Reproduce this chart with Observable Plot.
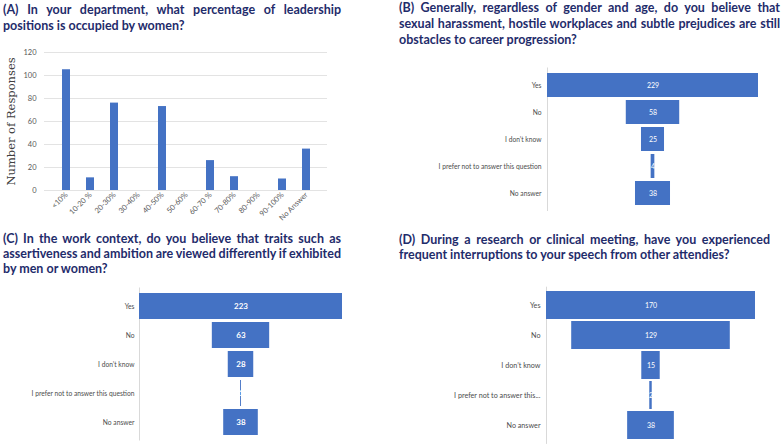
<!DOCTYPE html>
<html><head><meta charset="utf-8">
<script src="https://cdn.jsdelivr.net/npm/d3@7"></script>
<script src="https://cdn.jsdelivr.net/npm/@observablehq/plot@0.6"></script>
<style>
body{margin:0;background:#fff;width:784px;height:445px;overflow:hidden;position:relative;font-family:Lato,sans-serif}
.t{position:absolute;font-weight:bold;color:#1f2c6b;font-size:12.5px}
.t span{display:block;white-space:nowrap}
.p{position:absolute}
</style></head><body>
<div class="t" id="tA" style="left:3px;top:2px;width:338px;line-height:16px"></div>
<div class="t" id="tB" style="left:399px;top:0px;width:381px;line-height:16px"></div>
<div class="t" id="tC" style="left:3px;top:231px;width:338px;line-height:15px"></div>
<div class="t" id="tD" style="left:399px;top:232px;width:371px;line-height:15px"></div>
<div class="p" id="pA" style="left:0;top:40px"></div>
<div class="p" id="pB" style="left:392px;top:60px"></div>
<div class="p" id="pC" style="left:0;top:275px"></div>
<div class="p" id="pD" style="left:392px;top:275px"></div>
<script>
// Titles
const titleA = ["(A) In your department, what percentage of leadership", "positions is occupied by women?"];
const titleB = ["(B) Generally, regardless of gender and age, do you believe that", "sexual harassment, hostile workplaces and subtle prejudices are still", "obstacles to career progression?"];
const titleC = ["(C) In the work context, do you believe that traits such as", "assertiveness and ambition are viewed differently if exhibited", "by men or women?"];
const titleD = ["(D) During a research or clinical meeting, have you  experienced", "frequent interruptions to your speech from other attendies?"];

// Panel A data
const catA = ["<10%","10-20 %","20-30%","30-40%","40-50%","50-60%","60-70 %","70-80%","80-90%","90-100%","No Answer"];
const valA = [105, 11, 76, 0, 73, 0, 26, 12, 0, 10, 36];
const ticksA = [0, 20, 40, 60, 80, 100, 120];

// Funnel panels
const catB = ["Yes","No","I don’t know","I prefer not to answer this question","No answer"];
const valB = [229, 58, 25, 4, 38];
const catC = ["Yes","No","I don’t know","I prefer not to answer this question","No answer"];
const valC = [223, 63, 28, 1, 38];
const catD = ["Yes","No","I don’t know","I prefer not to answer this...","No answer"];
const valD = [170, 129, 15, 2, 38];

const BLUE = "#4472C4";

function title(id, lines) {
  const el = document.getElementById(id);
  const W = parseFloat(el.style.width);
  lines.forEach((l, i) => {
    const s = document.createElement("span");
    s.textContent = l;
    el.appendChild(s);
    if (i < lines.length - 1) {
      s.style.display = "inline-block";
      const w = s.getBoundingClientRect().width;
      const gaps = (l.match(/ +/g) || []).length;
      s.style.wordSpacing = ((W - w) / gaps) + "px";
      s.style.display = "block";
    }
  });
}
title("tA", titleA); title("tB", titleB); title("tC", titleC); title("tD", titleD);

// Panel A
const dataA = catA.map((c, i) => ({cat: c, value: valA[i]}));
document.getElementById("pA").appendChild(Plot.plot({
  width: 392, height: 190, marginLeft: 44, marginRight: 65, marginTop: 12, marginBottom: 40,
  style: {fontFamily: "Lato", fontSize: "7.5px", color: "#595959", background: "transparent"},
  x: {domain: catA, padding: 0.68, label: null},
  y: {domain: [0, 120], label: null},
  marks: [
    Plot.gridY(ticksA, {stroke: "#e3e3e3", strokeOpacity: 1}),
    Plot.barY(dataA, {x: "cat", y: "value", fill: BLUE}),
    Plot.axisY({ticks: ticksA, tickSize: 0, tickPadding: 8, label: null}),
    Plot.axisX({tickSize: 0, tickPadding: 3, tickRotate: -45, label: null}),
    Plot.text(["Number of Responses"], {frameAnchor: "left", textAnchor: "middle", rotate: -90, dx: -33, fontFamily: "DejaVu Serif", fontSize: 11.5, fill: "#404040"})
  ]
}));

function funnel(el, cats, vals, o) {
  const data = cats.map((c, i) => ({cat: c, value: vals[i]}));
  const m = d3.max(vals) / 2;
  document.getElementById(el).appendChild(Plot.plot({
    width: 392, height: o.height, marginLeft: o.ml, marginRight: o.mr, marginTop: o.mt, marginBottom: o.mb,
    style: {fontFamily: "Lato", fontSize: o.ls + "px", color: "#4d4d4d", background: "transparent"},
    x: {domain: [-m, m], axis: null},
    y: {domain: cats, padding: o.pad, label: null},
    marks: [
      Plot.frame({anchor: "left", stroke: "#d9d9d9"}),
      Plot.barX(data, {y: "cat", x1: d => -d.value / 2, x2: d => d.value / 2, fill: BLUE}),
      Plot.text(data, {y: "cat", x: 0, text: d => String(d.value), fill: "white", fontSize: o.fs, fontWeight: o.fw}),
      Plot.axisY({tickSize: 0, tickPadding: o.tp, label: null})
    ]
  }));
}
funnel("pB", catB, valB, {height: 160, ml: 155, mr: 26, mt: 7.5, mb: 10, pad: 0.1, tp: 6, fs: 7, fw: "normal", ls: 6.7});
funnel("pC", catC, valC, {height: 170, ml: 139, mr: 50, mt: 12.5, mb: 5.5, pad: 0.11, tp: 5, fs: 8, fw: "bold", ls: 6.7});
funnel("pD", catD, valD, {height: 170, ml: 154, mr: 29, mt: 11.7, mb: 2.1, pad: 0.07, tp: 6, fs: 7, fw: "normal", ls: 7.2});
</script>
</body></html>
